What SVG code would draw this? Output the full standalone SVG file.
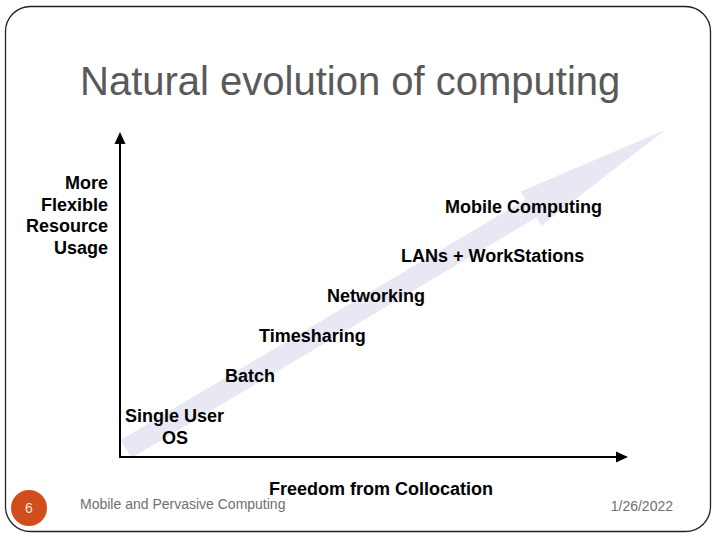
<svg xmlns="http://www.w3.org/2000/svg" width="720" height="540" viewBox="0 0 720 540">
<style>
.lbl{font-family:"Liberation Sans",Arial,sans-serif;font-weight:bold;font-size:18px;fill:#000}
.ftr{font-family:"Liberation Sans",Arial,sans-serif;font-size:14px;fill:#707070}
.axis{stroke:#000;stroke-width:2;fill:none}
</style>
<rect x="5.5" y="6.5" width="705" height="525" rx="25" ry="25" fill="#fff" stroke="#222" stroke-width="1.3"/>
<g id="title">
<text x="80" y="95" font-family="Liberation Sans, Arial, sans-serif" font-size="40" fill="#595959">Natural evolution of computing</text>
</g>
<g id="trend-arrow">
<polygon points="120.6,440 525.5,199.6 520.7,191.4 665,130 541.1,225.8 536.3,217.6 131.4,458" fill="#e8e8f4"/>
</g>
<g id="connectors">
<line class="axis" x1="120" y1="457" x2="120" y2="143"/>
<polygon points="120,132 114.5,144 125.5,144" fill="#000"/>
<line class="axis" x1="119" y1="457" x2="617" y2="457"/>
<polygon points="628,457 616,451.5 616,462.5" fill="#000"/>
</g>
<g id="y-label">
<text class="lbl" text-anchor="end" x="108" y="189">More</text>
<text class="lbl" text-anchor="end" x="108" y="210.5">Flexible</text>
<text class="lbl" text-anchor="end" x="108" y="232">Resource</text>
<text class="lbl" text-anchor="end" x="108" y="253.5">Usage</text>
</g>
<g id="n-mobile"><text class="lbl" x="445" y="212.5">Mobile Computing</text></g>
<g id="n-lans"><text class="lbl" x="401" y="261.5">LANs + WorkStations</text></g>
<g id="n-networking"><text class="lbl" x="327" y="301.5">Networking</text></g>
<g id="n-timesharing"><text class="lbl" x="259" y="341.5">Timesharing</text></g>
<g id="n-batch"><text class="lbl" x="225" y="381.5">Batch</text></g>
<g id="n-single">
<text class="lbl" x="125" y="421.5">Single User</text>
<text class="lbl" x="175" y="443.5" text-anchor="middle">OS</text>
</g>
<g id="x-label"><text class="lbl" x="269" y="494.5">Freedom from Collocation</text></g>
<g id="footer">
<circle cx="29" cy="508" r="18" fill="#d24d1c"/>
<text x="29" y="513" text-anchor="middle" font-family="Liberation Sans, Arial, sans-serif" font-size="14" fill="#f8e6dc">6</text>
<text class="ftr" x="80" y="509">Mobile and Pervasive Computing</text>
<text class="ftr" x="673" y="511" text-anchor="end" font-size="13.5">1/26/2022</text>
</g>
</svg>
